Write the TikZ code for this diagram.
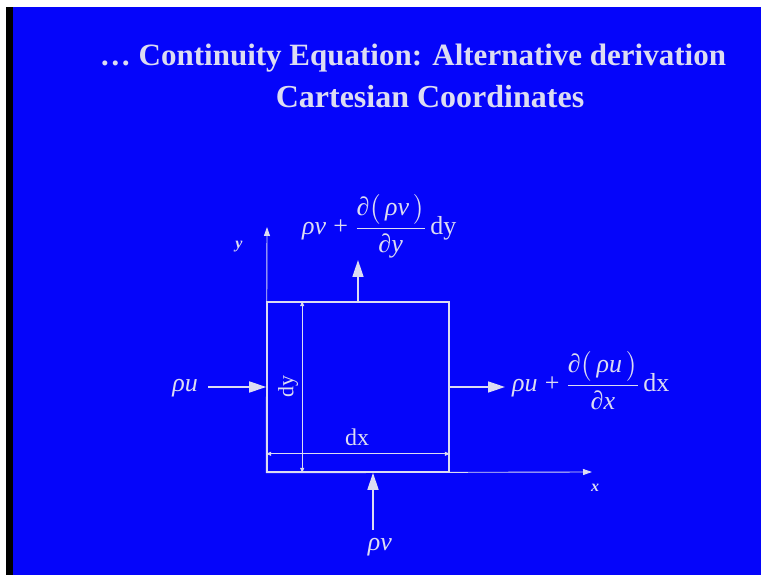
\documentclass[tikz,border=0pt]{standalone}
\usepackage{fix-cm}
\usepackage{amsmath}
\usepackage{fontspec}
\setmainfont{Liberation Serif}
\usetikzlibrary{arrows.meta,positioning,calc}
\definecolor{slidebg}{HTML}{0505FA}
\definecolor{chalk}{HTML}{DCDCF2}
\newcommand{\rhou}{\textit{ρu}}
\newcommand{\rhov}{\textit{ρv}}

\begin{document}
\begin{tikzpicture}[
    x=1pt, y=1pt,
    every node/.style={text=chalk, inner sep=0pt},
    flux/.style={draw=chalk, line width=1.6pt, -{Triangle[length=17pt,width=11pt]}},
    axis/.style={draw=chalk, line width=0.9pt, -{Triangle[length=9pt,width=6pt]}},
    dim/.style={draw=chalk, line width=0.8pt, {Triangle[length=5pt,width=4pt]}-{Triangle[length=5pt,width=4pt]}},
    lbl/.style={font=\fontsize{26}{30}\selectfont},
    axlbl/.style={font=\fontsize{16}{18}\selectfont\itshape\bfseries},
    titlefont/.style={font=\fontsize{31}{36}\selectfont\bfseries}
]
    % Slide background
    \useasboundingbox (0,0) rectangle (761,575);
    \fill[white] (0,0) rectangle (761,575);
    \fill[black] (6,0) rectangle (13,568);
    \fill[slidebg] (13,0) rectangle (761,568);

    % Title
    \node[titlefont] (title1) at (413,517) {… Continuity Equation: Alternative derivation};
    \node[titlefont, font=\fontsize{32}{36}\selectfont\bfseries] (title2) at (430,478) {Cartesian Coordinates};

    % Control volume
    \node[draw=chalk, line width=1.6pt, minimum width=182pt, minimum height=170pt] (cv) at (358,188) {};

    % Axes
    \coordinate (ytip) at (267,348);
    \coordinate (xtip) at (592,103);
    \draw[axis] (cv.south west) -- (ytip);
    \draw[axis] (cv.south west) -- (xtip);
    \node[axlbl] (ylab) at (239,328) {y};
    \node[axlbl] (xlab) at (595,87) {x};

    % Dimensions
    \coordinate (dyB) at ($(cv.south west)+(36,0)$);
    \coordinate (dyT) at ($(cv.north west)+(36,0)$);
    \draw[dim] (dyB) -- (dyT);
    \node[lbl, font=\fontsize{22}{24}\selectfont, rotate=90] (dylab) at (288,188) {dy};
    \coordinate (dxL) at ($(cv.south west)+(0,19)$);
    \coordinate (dxR) at ($(cv.south east)+(0,19)$);
    \draw[dim] (dxL) -- (dxR);
    \node[lbl, font=\fontsize{24}{28}\selectfont] (dxlab) at (357,138) {dx};

    % Inflow and outflow in x
    \node[lbl, anchor=base east] (qin) at (198,183) {\rhou};
    \coordinate (inTail) at (208,188);
    \draw[flux] (inTail) -- (cv.west);
    \node[lbl, anchor=base west] (qout) at (512,183)
        {$\text{\rhou}\;\text{+}\;\dfrac{\text{∂}\bigl(\,\text{\rhou}\,\bigr)}{\text{∂\textit{x}}}\,\text{dx}$};
    \draw[flux, shorten >=7pt] (cv.east) -- (cv.east -| qout.west);

    % Inflow and outflow in y
    \node[lbl, anchor=base west] (qtop) at (302,340)
        {$\text{\rhov}\;\text{+}\;\dfrac{\text{∂}\bigl(\,\text{\rhov}\,\bigr)}{\text{∂\textit{y}}}\,\text{dy}$};
    \coordinate (topTip) at (358,315);
    \draw[flux] (cv.north) -- (topTip);
    \node[lbl, anchor=north] (qbot) at (380,37) {\rhov};
    \coordinate (botTail) at (373,45);
    \draw[flux] (botTail) -- (botTail |- cv.south);
\end{tikzpicture}
\end{document}
